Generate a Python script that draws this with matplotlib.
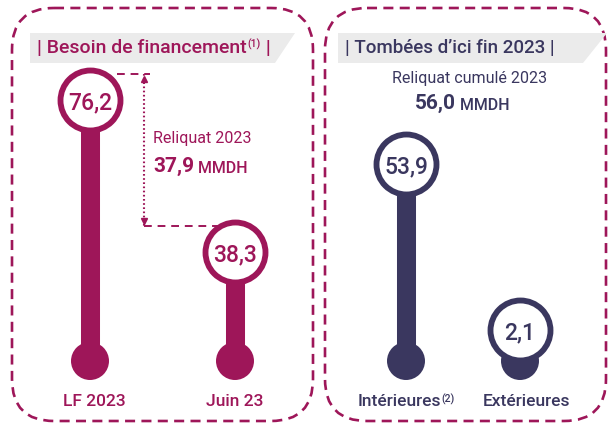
import matplotlib
matplotlib.use("Agg")
import matplotlib.pyplot as plt
from matplotlib.patches import FancyBboxPatch, Polygon
from matplotlib.transforms import blended_transform_factory, offset_copy

plt.rcParams["font.family"] = ["Roboto", "DejaVu Sans"]

# data
left_title = "| Besoin de financement"
left_cats = ["LF 2023", "Juin 23"]
left_vals = [76.2, 38.3]
left_gap_label = "Reliquat 2023"
left_gap_value = "37,9"

right_title = "| Tombées d\u2019ici fin 2023 |"
right_cats = ["Intérieures", "Extérieures"]
right_vals = [53.9, 2.1]
right_total_label = "Reliquat cumulé 2023"
right_total_value = "56,0"

MAGENTA = "#9e1659"
NAVY = "#3a375f"
GREY_BAND = "#ebebeb"

W, H = 608, 424
fig = plt.figure(figsize=(W / 100, H / 100), dpi=100)

# background layer in pixel units
bg = fig.add_axes([0, 0, 1, 1])
bg.set_xlim(0, W)
bg.set_ylim(H, 0)
bg.axis("off")

for x0, x1 in [(12, 313), (325, 606)]:
    box = FancyBboxPatch((x0, 8), x1 - x0, 413,
                         boxstyle="round,pad=0,rounding_size=42",
                         fill=False, ec=MAGENTA, lw=1.9,
                         linestyle=(0, (3.8, 2.4)))
    bg.add_patch(box)

bg.add_patch(Polygon([(30, 33), (295, 33), (275, 63), (30, 63)],
                     closed=True, fc=GREY_BAND, ec="none"))
bg.add_patch(Polygon([(338, 33), (607, 33), (583, 63), (338, 63)],
                     closed=True, fc=GREY_BAND, ec="none"))

t = bg.text(37, 48, left_title, color=MAGENTA, fontsize=14,
            fontweight="medium", va="center", ha="left")
sup = bg.annotate("(1)", xy=(1, 1.0), xycoords=t, xytext=(0.5, 0),
                  textcoords="offset points", color=MAGENTA, fontsize=7.5,
                  fontweight="medium", va="top", ha="left")
bg.annotate(" |", xy=(1, 0.5), xycoords=(sup, t), xytext=(0, 0),
            textcoords="offset points", color=MAGENTA, fontsize=14,
            fontweight="medium", va="center", ha="left")

bg.text(345, 48, right_title, color=NAVY, fontsize=13.5,
        fontweight="medium", va="center", ha="left")


def panel(cx0, dx, base_px, scale):
    # axes whose data space maps values to the infographic heights
    ax = fig.add_axes([0, 0, 1, 1])
    ax.patch.set_alpha(0)
    ax.axis("off")
    ax.set_xlim(-cx0 / dx, (W - cx0) / dx)
    ax.set_ylim((base_px - H) / scale, base_px / scale)
    return ax


def px_y(ax, py):
    return ax.transData.inverted().transform((0, H - py))[1]


def px_x(ax, px):
    return ax.transData.inverted().transform((px, 0))[0]


def lollipops(ax, vals, cats, color, labels_fs=12.5):
    xs = list(range(len(vals)))
    base = px_y(ax, 361)
    ax.vlines(xs, base, vals, color=color, lw=13.7, zorder=1)
    ax.scatter(xs, [base] * len(xs), s=(38 * 0.72) ** 2, fc=color,
               ec="none", zorder=2)
    ax.scatter(xs, vals, s=(60 * 0.72) ** 2, fc="white", ec=color,
               lw=4.2, zorder=3)
    for x, v in zip(xs, vals):
        ax.text(x, v, f"{v:.1f}".replace(".", ","), color=color,
                fontsize=16.5, fontweight="medium", ha="center",
                va="center_baseline", zorder=4)
    tr = blended_transform_factory(ax.transData, ax.transAxes)
    out = []
    for x, c in zip(xs, cats):
        out.append(ax.text(x, 1 - 401 / H, c, transform=tr, color=color,
                           fontsize=labels_fs, fontweight="medium",
                           ha="center", va="center"))
    return out


# left panel
axl = panel(90, 145, 405.6, 4.01)
labl = lollipops(axl, left_vals, left_cats, MAGENTA)
labl[0].set_x(0.03)

up = offset_copy(axl.transData, fig=fig, y=26, units="dots")
xa = px_x(axl, 144)
axl.plot([px_x(axl, 117), px_x(axl, 150)], [left_vals[0]] * 2, transform=up,
         color=MAGENTA, lw=1.4, ls=(0, (4, 3)))
axl.plot([xa, px_x(axl, 226)], [left_vals[1]] * 2, transform=up,
         color=MAGENTA, lw=1.4, ls=(0, (4, 3)))
axl.plot([xa, xa], left_vals, transform=up, color=MAGENTA, lw=1.5,
         ls=(0, (0.8, 1.2)))
axl.plot([xa], [left_vals[0]], transform=offset_copy(axl.transData, fig=fig, y=21, units="dots"),
         marker="^", ms=5, color=MAGENTA)
axl.plot([xa], [left_vals[1]], transform=offset_copy(axl.transData, fig=fig, y=31, units="dots"),
         marker="v", ms=5, color=MAGENTA)

g = bg.text(153, 138, left_gap_label, color=MAGENTA, fontsize=11.5,
            ha="left", va="center")
gv = bg.text(153, 166, left_gap_value, color=MAGENTA, fontsize=15,
             fontweight="bold", ha="left", va="center")
bg.annotate(" MMDH", xy=(1, 0), xycoords=gv, xytext=(0, 0),
            textcoords="offset points", color=MAGENTA, fontsize=11.5,
            fontweight="medium", ha="left", va="bottom")

# right panel
axr = panel(406, 114, 336.7, 3.205)
labs = lollipops(axr, right_vals, right_cats, NAVY)
labs[0].set_x(-0.06)
axr.annotate("(2)", xy=(1, 1.0), xycoords=labs[0], xytext=(0.5, 0),
             textcoords="offset points", color=NAVY, fontsize=7.5,
             fontweight="medium", va="top", ha="left")
labs[1].set_x(1.06)

bg.text(470, 78, right_total_label, color=NAVY, fontsize=11.5,
        ha="center", va="center")
rv = bg.text(415, 103, right_total_value, color=NAVY, fontsize=15,
             fontweight="bold", ha="left", va="center")
bg.annotate(" MMDH", xy=(1, 0), xycoords=rv, xytext=(0, 0),
            textcoords="offset points", color=NAVY, fontsize=11.5,
            fontweight="medium", ha="left", va="bottom")

fig.savefig("out.png", dpi=100)
